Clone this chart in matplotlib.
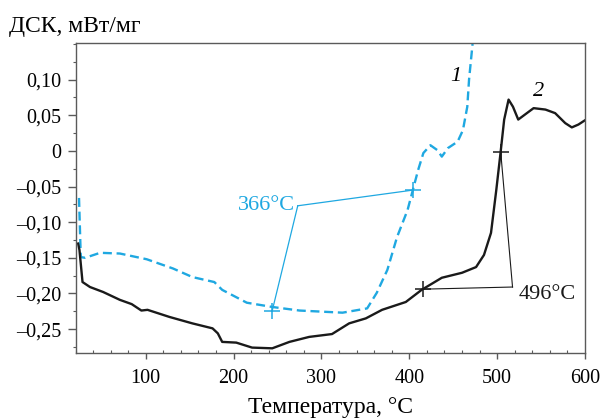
import matplotlib
matplotlib.use("Agg")
import matplotlib.pyplot as plt
from matplotlib.ticker import FixedLocator, MultipleLocator, FuncFormatter

plt.rcParams['font.family'] = ['Liberation Serif', 'DejaVu Serif']

# Curve 1 (dashed blue)
t1 = [24, 26, 31, 48, 70.5, 101, 131, 153, 178, 187, 215, 244, 275, 324, 352, 363, 375,
      386, 398, 404, 410, 416, 424, 432, 437, 444, 455, 461, 466, 468, 472]
v1 = [-0.066, -0.149, -0.150, -0.143, -0.144, -0.152, -0.165, -0.177, -0.184, -0.195, -0.213,
      -0.219, -0.224, -0.227, -0.221, -0.199, -0.167, -0.121, -0.083, -0.055, -0.027,
      -0.003, 0.008, 0.001, -0.008, 0.004, 0.013, 0.029, 0.062, 0.100, 0.150]

# Curve 2 (solid black)
t2 = [23, 24.5, 28, 36.5, 51.5, 70.5, 84, 95, 102, 127, 153, 176, 182, 187, 203, 221, 244,
      263.5, 286, 312, 331.5, 350.5, 369, 396, 414, 437, 460, 476, 485, 493, 499, 504,
      508, 513, 518, 524, 536, 541.5, 555, 566, 577.5, 585, 592.5, 600]
v2 = [-0.130, -0.139, -0.184, -0.191, -0.198, -0.209, -0.215, -0.224, -0.223, -0.233,
      -0.242, -0.249, -0.256, -0.268, -0.269, -0.276, -0.277, -0.268, -0.261, -0.257,
      -0.242, -0.235, -0.223, -0.212, -0.195, -0.178, -0.171, -0.163, -0.146, -0.115,
      -0.055, -0.001, 0.044, 0.072, 0.062, 0.044, 0.055, 0.060, 0.058, 0.053, 0.039,
      0.033, 0.037, 0.043]

# annotation points
m1_t = [244, 404]
m1_v = [-0.224, -0.055]
j1 = (273, -0.077)
m2_t = [416, 504]
m2_v = [-0.194, -0.001]
j2 = (517.5, -0.191)

blue = '#1fa8e1'
dark = '#1a1a1a'

fig = plt.figure(figsize=(6.01, 4.18), dpi=100)
ax = fig.add_axes([75.5/601, 1-353.3/418, (585-75.5)/601, (353.3-43.3)/418])

ax.plot(t1, v1, color=blue, lw=1.7, ls=(0, (3.8, 2.0)))
ax.plot(t2, v2, color=dark, lw=1.7)

# blue annotation
for t, v in zip(m1_t, m1_v):
    ax.plot([j1[0], t], [j1[1], v], color=blue, lw=0.9)
ax.plot(m1_t, m1_v, ls='none', marker='+', ms=12, mew=1.1, color=blue)
ax.text(270, -0.0765, '366°C', color=blue, fontsize=16, ha='right', va='center')

# black annotation
for t, v in zip(m2_t, m2_v):
    ax.plot([j2[0], t], [j2[1], v], color=dark, lw=0.8)
ax.plot(m2_t, m2_v, ls='none', marker='+', ms=12, mew=1.1, color=dark)
ax.text(524.5, -0.2015, '496°C', color=dark, fontsize=16, ha='left', va='center')

ax.text(453, 0.105, '1', fontsize=16, style='italic', ha='center', va='center')
ax.text(547, 0.083, '2', fontsize=16, style='italic', ha='center', va='center')

ax.set_xlim(20, 600)
ax.set_ylim(-0.284, 0.151)

ax.xaxis.set_major_locator(FixedLocator([100, 200, 300, 400, 500, 600]))
ax.xaxis.set_minor_locator(MultipleLocator(20))
ax.yaxis.set_major_locator(FixedLocator([-0.25, -0.2, -0.15, -0.1, -0.05, 0, 0.05, 0.1]))
ax.yaxis.set_minor_locator(MultipleLocator(0.025))

def yfmt(v, pos):
    if abs(v) < 1e-9:
        return '0'
    return ('%.2f' % v).replace('.', ',').replace('-', '\u2013')
ax.yaxis.set_major_formatter(FuncFormatter(yfmt))

for s in ax.spines.values():
    s.set_color('#5a5a5a')
    s.set_linewidth(1.0)
ax.tick_params(axis='both', which='major', direction='out', width=1,
               color='#5a5a5a', labelsize=14.5)
ax.tick_params(axis='y', which='major', length=6, pad=4)
ax.tick_params(axis='x', which='major', length=4.5, pad=7)
ax.tick_params(axis='x', which='minor', direction='in', length=2.5, width=0.8, color='#5a5a5a')
ax.tick_params(axis='y', which='minor', direction='out', length=2.5, width=0.8, color='#5a5a5a')

fig.text((75.5 + 585) / 2 / 601, 1 - 413/418, 'Температура, °C', fontsize=17,
         ha='center', va='baseline')
fig.text(9/601, 1 - 32/418, 'ДСК, мВт/мг', fontsize=17, ha='left', va='baseline')

fig.savefig('out.png', dpi=100)
